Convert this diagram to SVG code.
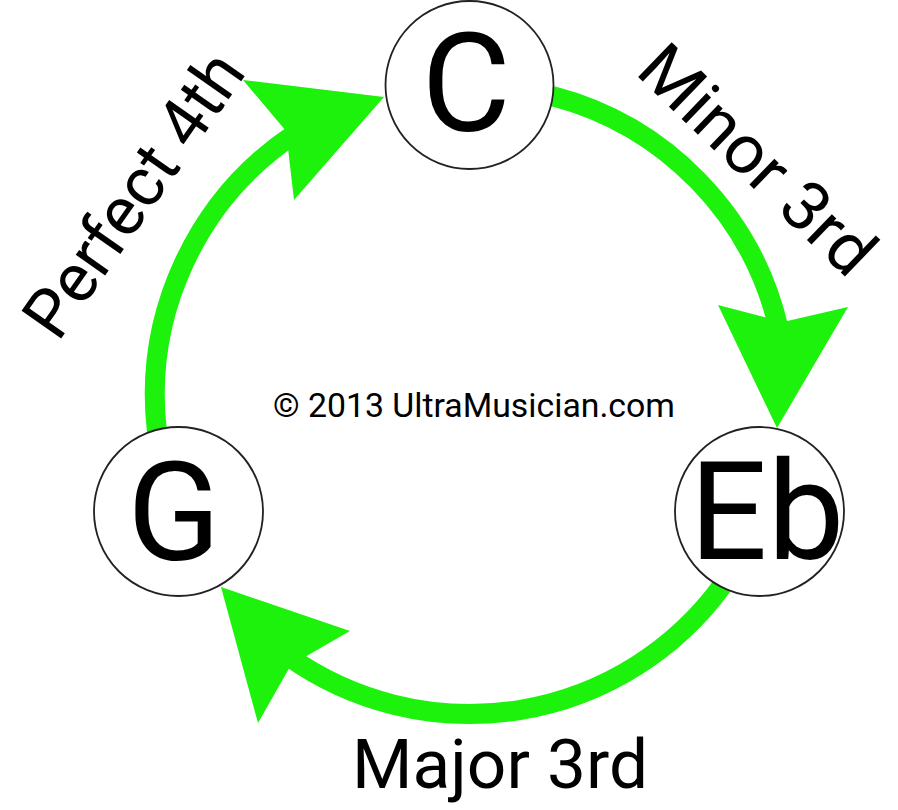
<svg xmlns="http://www.w3.org/2000/svg" width="898" height="810" viewBox="0 0 898 810">
<style>
  .arc { fill: none; stroke: #1cf20c; stroke-width: 20; }
  .head { fill: #1cf20c; }
  .node { fill: #ffffff; stroke: #222222; stroke-width: 1.8; }
  text { font-family: Roboto, "Open Sans", "Liberation Sans", sans-serif; fill: #000000; }
  .big { font-size: 137px; text-anchor: middle; }
  .lbl { font-size: 68px; }
</style>
<rect width="898" height="810" fill="#ffffff"/>
<g id="connectors">
  <path class="arc" d="M 552 96 A 313 313 0 0 1 779 330"/>
  <polygon class="head" points="777,428 718,305 783,322 848,307"/>
  <path class="arc" d="M 722 586 A 313 313 0 0 1 288 656"/>
  <polygon class="head" points="221,587 350,631 291,665 258,723"/>
  <path class="arc" d="M 157 432 A 314 314 0 0 1 296 133"/>
  <polygon class="head" points="384,97 243,80 286,131 294,200"/>
</g>
<g id="node-C">
  <circle class="node" cx="469.5" cy="85" r="84"/>
  <text class="big" x="466" y="131">C</text>
</g>
<g id="node-Eb">
  <circle class="node" cx="759.5" cy="511.5" r="84.5"/>
  <text class="big" x="767" y="559">Eb</text>
</g>
<g id="node-G">
  <circle class="node" cx="178.5" cy="511.5" r="84.5"/>
  <text class="big" x="174" y="560">G</text>
</g>
<g id="labels">
  <text class="lbl" font-size="66" transform="translate(58,343) rotate(-55)" textLength="330" lengthAdjust="spacingAndGlyphs">Perfect 4th</text>
  <text class="lbl" transform="translate(634,73) rotate(44)" textLength="298" lengthAdjust="spacingAndGlyphs">Minor 3rd</text>
  <text class="lbl" x="352" y="788" font-size="70" textLength="296" lengthAdjust="spacingAndGlyphs">Major 3rd</text>
  <text x="273" y="417" font-size="33" textLength="402" lengthAdjust="spacingAndGlyphs">© 2013 UltraMusician.com</text>
</g>
</svg>
